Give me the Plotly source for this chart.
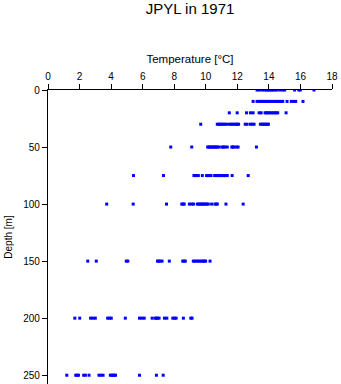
import plotly.graph_objects as go

# Temperature profile samples grouped by sampling depth
depths = [0, 10, 20, 30, 50, 75, 100, 150, 200, 250]

temps_0 = [13.25, 13.4, 13.59, 13.74, 13.85, 13.95, 14.05, 14.16, 14.25, 14.37, 14.5,
           14.69, 14.86, 15.0, 15.63, 15.9, 15.99, 16.86]
temps_10 = [13.0, 13.25, 13.4, 13.5, 13.6, 13.7, 13.8, 13.9, 14.0, 14.1, 14.25, 14.35,
            14.46, 14.57, 14.67, 14.78, 14.88, 15.15, 15.42, 15.57, 15.7, 16.16]
temps_20 = [11.49, 11.99, 12.58, 12.83, 13.0, 13.38, 13.51, 13.76, 13.85, 13.95, 14.05,
            14.16, 14.27, 14.37, 14.47, 14.56, 15.09]
temps_30 = [9.68, 10.73, 10.82, 10.9, 11.0, 11.1, 11.2, 11.32, 11.49, 11.6, 11.7, 11.8,
            11.9, 12.0, 12.08, 12.5, 12.62, 12.83, 12.95, 13.06, 13.46, 13.55, 13.63,
            13.72, 13.8, 13.9, 13.97]
temps_50 = [7.78, 9.11, 10.12, 10.2, 10.27, 10.35, 10.44, 10.52, 10.59, 10.66, 10.73,
            10.85, 11.04, 11.12, 11.21, 11.36, 11.65, 11.72, 11.78, 11.95, 12.05, 13.21]
temps_75 = [5.42, 7.32, 9.25, 9.32, 9.38, 9.53, 9.78, 10.05, 10.12, 10.2, 10.33, 10.56,
            10.65, 10.73, 10.82, 10.9, 10.98, 11.06, 11.14, 11.21, 11.28, 11.36, 11.67,
            12.69]
temps_100 = [3.72, 5.4, 7.51, 8.48, 8.56, 8.63, 8.96, 9.11, 9.22, 9.46, 9.55, 9.63,
             9.72, 9.8, 9.88, 9.97, 10.06, 10.16, 10.37, 10.58, 10.66, 10.73, 11.28,
             12.37]
temps_150 = [2.52, 3.06, 4.96, 5.06, 6.94, 7.02, 7.1, 7.23, 7.69, 8.54, 8.62, 8.7,
             9.21, 9.3, 9.42, 9.52, 9.63, 9.74, 9.84, 9.92, 9.99, 10.27]
temps_200 = [1.7, 2.01, 2.7, 2.85, 3.0, 3.78, 3.9, 4.01, 4.9, 5.8, 5.95, 6.1, 6.6,
             6.79, 6.87, 6.94, 7.04, 7.38, 7.53, 7.91, 8.02, 8.12, 8.58, 9.05, 9.13]
temps_250 = [1.19, 1.76, 1.85, 1.93, 2.26, 2.37, 2.6, 3.23, 3.36, 3.49, 3.95, 4.05,
             4.12, 4.2, 4.28, 5.8, 6.87, 7.3]

temps_by_depth = [temps_0, temps_10, temps_20, temps_30, temps_50,
                  temps_75, temps_100, temps_150, temps_200, temps_250]

x_ticks = [0, 2, 4, 6, 8, 10, 12, 14, 16, 18]
y_ticks = [0, 50, 100, 150, 200, 250]

xs, ys = [], []
for d, ts in zip(depths, temps_by_depth):
    xs.extend(ts)
    ys.extend([d] * len(ts))

fig = go.Figure(go.Scatter(
    x=xs, y=ys, mode="markers",
    marker=dict(symbol="square", size=3, color="#0000FF", line=dict(width=0)),
    showlegend=False,
))

font_family = "Liberation Sans, Arial, sans-serif"
fig.update_layout(
    width=341, height=384,
    margin=dict(l=47.5, r=8.5, t=90, b=0, pad=0),
    paper_bgcolor="white", plot_bgcolor="white",
    font=dict(family=font_family, size=10, color="black"),
    title=dict(text="JPYL in 1971", x=0.5, xref="paper", xanchor="center",
               y=1 - 9 / 384, yref="container", yanchor="middle",
               font=dict(size=15, family=font_family, color="black")),
    xaxis=dict(
        side="top", range=[0, 18], tickvals=x_ticks, ticktext=[str(v) for v in x_ticks],
        showline=True, linecolor="black", linewidth=1.3, ticks="outside", ticklen=5,
        tickwidth=1, tickcolor="black", showgrid=False, zeroline=False,
        tickfont=dict(size=10),
        title=dict(text="Temperature [°C]", font=dict(size=11.5), standoff=4),
    ),
    yaxis=dict(
        range=[257.7, 0], tickvals=y_ticks, ticktext=[str(v) for v in y_ticks],
        showline=True, linecolor="black", linewidth=1.3, ticks="outside", ticklen=5,
        tickwidth=1, tickcolor="black", showgrid=False, zeroline=False,
        tickfont=dict(size=10),
        title=dict(text="Depth [m]", font=dict(size=10), standoff=8),
    ),
)

fig.write_html("out.html")
